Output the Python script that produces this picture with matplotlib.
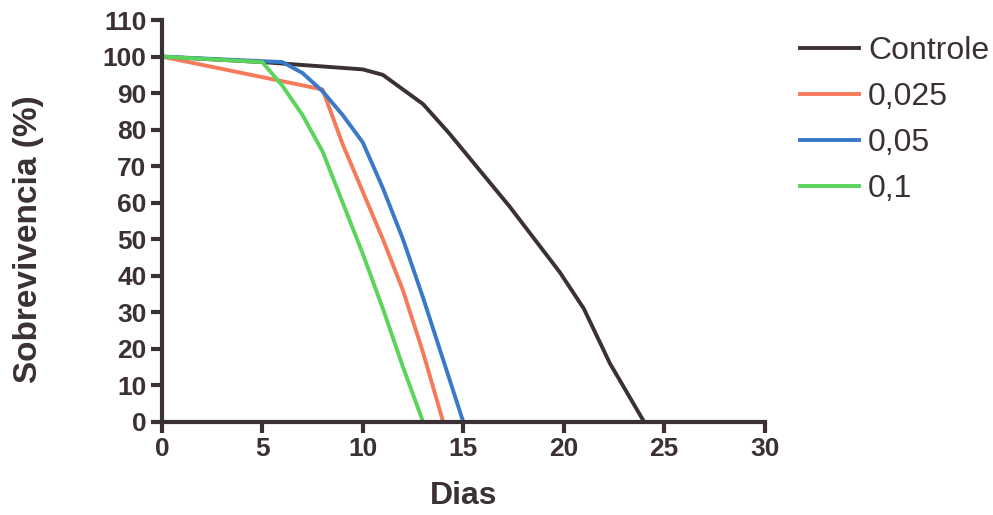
import numpy as np
import matplotlib.pyplot as plt

plt.rcParams['font.family'] = ['Liberation Sans', 'DejaVu Sans']

# survival curves
dias_ctrl = [0, 5, 10, 11, 13, 14.3, 17.3, 19.8, 21, 22.3, 24]
surv_ctrl = [100, 98.5, 96.5, 95, 87, 79, 59, 41, 31, 16, 0]

dias_025 = [0, 8, 9, 10, 11, 12, 13, 14]
surv_025 = [100, 91, 76, 63, 50, 36, 19, 0]

dias_05 = [0, 6, 7, 8, 9, 10, 11, 12, 13, 14, 15]
surv_05 = [100, 98.5, 95.5, 90.5, 84, 76.5, 64, 50, 34, 17, 0]

dias_1 = [0, 5, 6, 7, 8, 9, 10, 11, 12, 13]
surv_1 = [100, 98.5, 92, 84, 74, 60, 46, 31, 15, 0]

labels = ['Controle', '0,025', '0,05', '0,1']
colors = ['#3b3035', '#f47a5a', '#3a78c8', '#5ad45a']

fig = plt.figure(figsize=(9.93, 5.15), dpi=100)
ax = fig.add_axes([0.163, 0.181, 0.607, 0.780])

series = [(dias_ctrl, surv_ctrl), (dias_025, surv_025), (dias_05, surv_05), (dias_1, surv_1)]
for (x, y), lab, c in zip(series, labels, colors):
    ax.plot(x, y, color=c, lw=2.8, label=lab, solid_joinstyle='round')

ax.set_xlim(0, 30)
ax.set_ylim(0, 110)
ax.set_xticks(np.arange(0, 31, 5))
ax.set_yticks(np.arange(0, 111, 10))
ax.spines['top'].set_visible(False)
ax.spines['right'].set_visible(False)
for s in ['left', 'bottom']:
    ax.spines[s].set_linewidth(3)
    ax.spines[s].set_color('#3b3035')
ax.tick_params(direction='out', length=8, width=3, color='#3b3035',
               labelsize=19, labelcolor='#3b3035', pad=3)
for t in ax.get_xticklabels() + ax.get_yticklabels():
    t.set_fontweight('bold')

ax.set_xlabel('Dias', fontsize=23, fontweight='bold', color='#3b3035', labelpad=14)
ax.set_ylabel('Sobrevivencia (%)', fontsize=24, fontweight='bold', color='#3b3035')
ax.yaxis.set_label_coords(-0.195, 0.455)

leg = fig.legend(loc='upper left', bbox_to_anchor=(0.806, 0.93), frameon=False,
                 fontsize=23, handlelength=1.85, labelspacing=0.5, handletextpad=0.27,
                 borderpad=0, borderaxespad=0)
for t in leg.get_texts():
    t.set_color('#3b3035')

fig.savefig('out.png', dpi=100)
